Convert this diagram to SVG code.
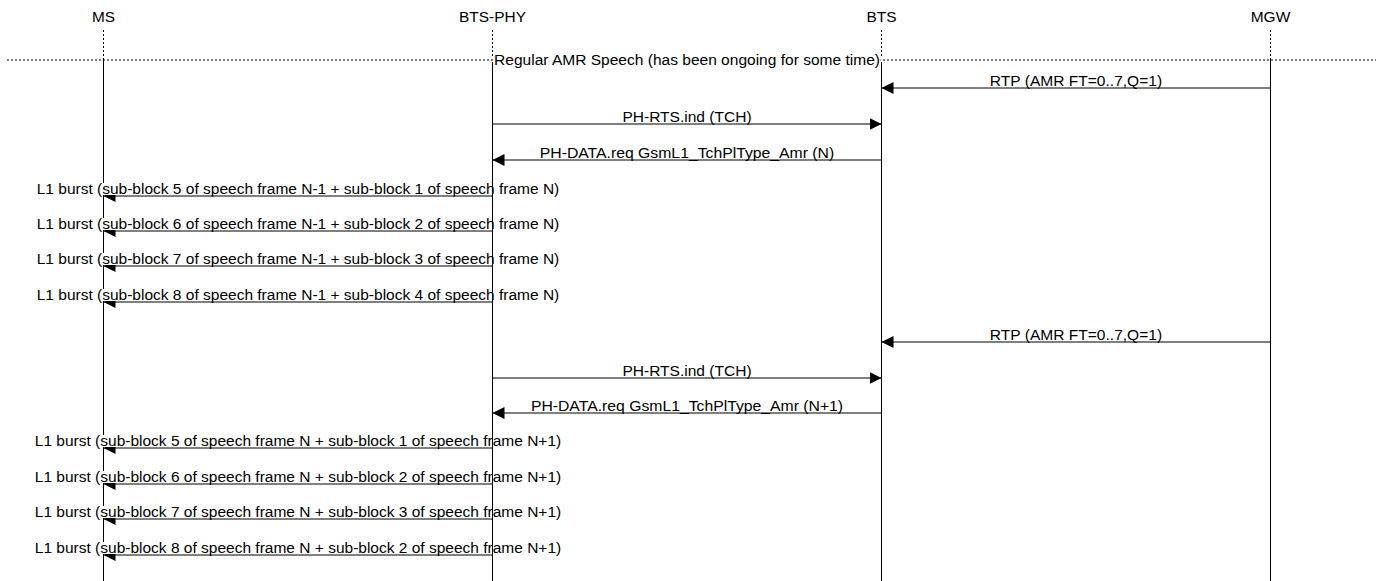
<svg xmlns="http://www.w3.org/2000/svg" width="1376" height="581" viewBox="0 0 1376 581">
<style>
text{font-family:"Liberation Sans",Arial,sans-serif;font-size:14px;fill:#000;text-anchor:middle}
.life{stroke:#000;stroke-width:1;fill:none}
.dot{stroke:#000;stroke-width:1;stroke-dasharray:2,2;fill:none}
.msg{stroke:#000;stroke-width:1;fill:none;marker-end:url(#ah)}
.bg{fill:#fff}
</style>
<defs>
<marker id="ah" markerUnits="userSpaceOnUse" markerWidth="13" markerHeight="13" refX="12" refY="6" orient="auto">
<path d="M0,0 L12,6 L0,12 z" fill="#000"/>
</marker>
</defs>
<rect width="1376" height="581" fill="#fff"/>
<line class="dot" x1="7" y1="60" x2="1376" y2="60"/>
<g id="ms">
<text x="103.5" y="22" textLength="23" lengthAdjust="spacingAndGlyphs">MS</text>
<line class="dot" x1="103.5" y1="30" x2="103.5" y2="58"/>
<line class="life" x1="103.5" y1="58" x2="103.5" y2="581"/>
</g>
<g id="connectors">
<line class="msg" x1="1270.5" y1="88" x2="881.5" y2="88"/>
<line class="msg" x1="492.5" y1="124" x2="881.5" y2="124"/>
<line class="msg" x1="881.5" y1="160" x2="492.5" y2="160"/>
<line class="msg" x1="492.5" y1="196" x2="103.5" y2="196"/>
<line class="msg" x1="492.5" y1="231" x2="103.5" y2="231"/>
<line class="msg" x1="492.5" y1="266" x2="103.5" y2="266"/>
<line class="msg" x1="492.5" y1="302" x2="103.5" y2="302"/>
<line class="msg" x1="1270.5" y1="342" x2="881.5" y2="342"/>
<line class="msg" x1="492.5" y1="378" x2="881.5" y2="378"/>
<line class="msg" x1="881.5" y1="413" x2="492.5" y2="413"/>
<line class="msg" x1="492.5" y1="448" x2="103.5" y2="448"/>
<line class="msg" x1="492.5" y1="484" x2="103.5" y2="484"/>
<line class="msg" x1="492.5" y1="519" x2="103.5" y2="519"/>
<line class="msg" x1="492.5" y1="555" x2="103.5" y2="555"/>
<rect class="bg" x="493.5" y="53" width="387" height="14"/>
<text x="687" y="65" textLength="385.9" lengthAdjust="spacingAndGlyphs">Regular AMR Speech (has been ongoing for some time)</text>
<text x="1076" y="86" textLength="172.3" lengthAdjust="spacingAndGlyphs">RTP (AMR FT=0..7,Q=1)</text>
<text x="687" y="122" textLength="129.2" lengthAdjust="spacingAndGlyphs">PH-RTS.ind (TCH)</text>
<text x="687" y="158" textLength="294.5" lengthAdjust="spacingAndGlyphs">PH-DATA.req GsmL1_TchPlType_Amr (N)</text>
<rect class="bg" x="36" y="183" width="524" height="12"/>
<text x="298" y="194" textLength="522.5" lengthAdjust="spacingAndGlyphs">L1 burst (sub-block 5 of speech frame N-1 + sub-block 1 of speech frame N)</text>
<rect class="bg" x="36" y="218" width="524" height="12"/>
<text x="298" y="229" textLength="522.5" lengthAdjust="spacingAndGlyphs">L1 burst (sub-block 6 of speech frame N-1 + sub-block 2 of speech frame N)</text>
<rect class="bg" x="36" y="253" width="524" height="12"/>
<text x="298" y="264" textLength="522.5" lengthAdjust="spacingAndGlyphs">L1 burst (sub-block 7 of speech frame N-1 + sub-block 3 of speech frame N)</text>
<rect class="bg" x="36" y="289" width="524" height="12"/>
<text x="298" y="300" textLength="522.5" lengthAdjust="spacingAndGlyphs">L1 burst (sub-block 8 of speech frame N-1 + sub-block 4 of speech frame N)</text>
<text x="1076" y="340" textLength="172.3" lengthAdjust="spacingAndGlyphs">RTP (AMR FT=0..7,Q=1)</text>
<text x="687" y="376" textLength="129.2" lengthAdjust="spacingAndGlyphs">PH-RTS.ind (TCH)</text>
<text x="687" y="411" textLength="312.2" lengthAdjust="spacingAndGlyphs">PH-DATA.req GsmL1_TchPlType_Amr (N+1)</text>
<rect class="bg" x="34" y="435" width="528" height="12"/>
<text x="298" y="446" textLength="526.4" lengthAdjust="spacingAndGlyphs">L1 burst (sub-block 5 of speech frame N + sub-block 1 of speech frame N+1)</text>
<rect class="bg" x="34" y="471" width="528" height="12"/>
<text x="298" y="482" textLength="526.4" lengthAdjust="spacingAndGlyphs">L1 burst (sub-block 6 of speech frame N + sub-block 2 of speech frame N+1)</text>
<rect class="bg" x="34" y="506" width="528" height="12"/>
<text x="298" y="517" textLength="526.4" lengthAdjust="spacingAndGlyphs">L1 burst (sub-block 7 of speech frame N + sub-block 3 of speech frame N+1)</text>
<rect class="bg" x="34" y="542" width="528" height="12"/>
<text x="298" y="553" textLength="526.4" lengthAdjust="spacingAndGlyphs">L1 burst (sub-block 8 of speech frame N + sub-block 2 of speech frame N+1)</text>
</g>
<g id="bts-phy">
<text x="492.5" y="22" textLength="67" lengthAdjust="spacingAndGlyphs">BTS-PHY</text>
<line class="dot" x1="492.5" y1="30" x2="492.5" y2="58"/>
<line class="life" x1="492.5" y1="62" x2="492.5" y2="581"/>
</g>
<g id="bts">
<text x="881.5" y="22" textLength="30" lengthAdjust="spacingAndGlyphs">BTS</text>
<line class="dot" x1="881.5" y1="30" x2="881.5" y2="58"/>
<line class="life" x1="881.5" y1="62" x2="881.5" y2="581"/>
</g>
<g id="mgw">
<text x="1270.5" y="22" textLength="39.6" lengthAdjust="spacingAndGlyphs">MGW</text>
<line class="dot" x1="1270.5" y1="30" x2="1270.5" y2="58"/>
<line class="life" x1="1270.5" y1="58" x2="1270.5" y2="581"/>
</g>
</svg>
